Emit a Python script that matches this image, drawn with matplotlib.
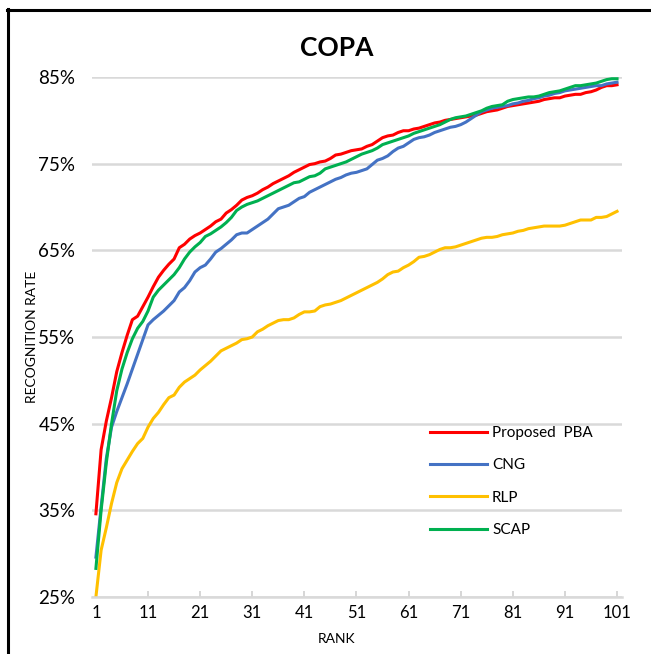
import numpy as np
import matplotlib
matplotlib.use('Agg')
import matplotlib.pyplot as plt
from matplotlib.lines import Line2D

plt.rcParams['font.family'] = ['Lato', 'DejaVu Sans']

# 数据
rank = list(range(1, 102))
pba = [34.6, 42.0, 45.3, 48.0, 51.0, 53.2, 55.2, 57.0, 57.4, 58.5,
       59.6, 60.8, 61.9, 62.7, 63.4, 64.0, 65.3, 65.7, 66.3, 66.7,
       67.0, 67.4, 67.8, 68.3, 68.6, 69.3, 69.7, 70.2, 70.8, 71.1,
       71.3, 71.6, 72.0, 72.3, 72.7, 73.0, 73.3, 73.6, 74.0, 74.3,
       74.6, 74.9, 75.0, 75.2, 75.3, 75.6, 76.0, 76.1, 76.3, 76.5,
       76.6, 76.7, 77.0, 77.2, 77.6, 78.0, 78.2, 78.3, 78.6, 78.8,
       78.8, 79.0, 79.1, 79.3, 79.5, 79.7, 79.8, 80.0, 80.1, 80.2,
       80.3, 80.4, 80.5, 80.6, 80.8, 81.0, 81.1, 81.2, 81.4, 81.6,
       81.7, 81.8, 81.9, 82.0, 82.1, 82.2, 82.4, 82.5, 82.6, 82.6,
       82.8, 82.9, 83.0, 83.0, 83.2, 83.3, 83.5, 83.8, 84.0, 84.0,
       84.1]
cng = [29.6, 35.4, 41.0, 44.6, 46.4, 48.0, 49.6, 51.3, 53.0, 54.7,
       56.4, 57.0, 57.5, 58.0, 58.6, 59.2, 60.2, 60.7, 61.5, 62.5,
       63.0, 63.3, 64.0, 64.8, 65.2, 65.7, 66.2, 66.8, 67.0, 67.0,
       67.4, 67.8, 68.2, 68.6, 69.2, 69.8, 70.0, 70.2, 70.6, 71.0,
       71.2, 71.7, 72.0, 72.3, 72.6, 72.9, 73.2, 73.4, 73.7, 73.9,
       74.0, 74.2, 74.4, 74.9, 75.4, 75.6, 75.9, 76.4, 76.8, 77.0,
       77.4, 77.8, 78.0, 78.1, 78.3, 78.6, 78.8, 79.0, 79.2, 79.3,
       79.5, 79.8, 80.2, 80.6, 81.0, 81.2, 81.4, 81.5, 81.6, 81.7,
       81.9, 82.0, 82.2, 82.3, 82.5, 82.6, 82.8, 82.9, 83.1, 83.2,
       83.4, 83.5, 83.6, 83.7, 83.8, 83.9, 84.0, 84.0, 84.2, 84.3,
       84.4]
rlp = [25.0, 30.4, 33.0, 35.8, 38.2, 39.8, 40.8, 41.8, 42.7, 43.3,
       44.6, 45.6, 46.3, 47.2, 48.0, 48.3, 49.2, 49.8, 50.2, 50.6,
       51.2, 51.7, 52.2, 52.8, 53.4, 53.7, 54.0, 54.3, 54.7, 54.8,
       55.0, 55.6, 55.9, 56.3, 56.6, 56.9, 57.0, 57.0, 57.2, 57.6,
       57.9, 57.9, 58.0, 58.5, 58.7, 58.8, 59.0, 59.2, 59.5, 59.8,
       60.1, 60.4, 60.7, 61.0, 61.3, 61.7, 62.2, 62.5, 62.6, 63.0,
       63.3, 63.7, 64.2, 64.3, 64.5, 64.8, 65.1, 65.3, 65.3, 65.4,
       65.6, 65.8, 66.0, 66.2, 66.4, 66.5, 66.5, 66.6, 66.8, 66.9,
       67.0, 67.2, 67.3, 67.5, 67.6, 67.7, 67.8, 67.8, 67.8, 67.8,
       67.9, 68.1, 68.3, 68.5, 68.5, 68.5, 68.8, 68.8, 68.9, 69.2,
       69.5]
scap = [28.3, 35.0, 40.5, 45.0, 48.8, 51.3, 53.2, 54.8, 56.0, 56.8,
        58.0, 59.6, 60.4, 61.0, 61.6, 62.2, 63.0, 64.0, 64.8, 65.4,
        65.9, 66.6, 66.9, 67.3, 67.7, 68.2, 68.8, 69.6, 70.0, 70.3,
        70.5, 70.7, 71.0, 71.3, 71.6, 71.9, 72.2, 72.5, 72.8, 72.9,
        73.2, 73.5, 73.6, 73.9, 74.4, 74.6, 74.8, 75.0, 75.2, 75.5,
        75.8, 76.1, 76.3, 76.5, 76.8, 77.2, 77.4, 77.6, 77.8, 78.0,
        78.2, 78.5, 78.7, 78.9, 79.1, 79.3, 79.5, 79.8, 80.1, 80.3,
        80.4, 80.5, 80.7, 80.9, 81.1, 81.4, 81.6, 81.7, 81.8, 82.2,
        82.4, 82.5, 82.6, 82.7, 82.7, 82.8, 83.0, 83.2, 83.3, 83.4,
        83.6, 83.8, 84.0, 84.0, 84.1, 84.2, 84.3, 84.5, 84.7, 84.8,
        84.8]
x_ticks = list(range(1, 102, 10))
y_ticks = [25, 35, 45, 55, 65, 75, 85]

fig = plt.figure(figsize=(6.51, 6.54), dpi=100)
ax = fig.add_axes([92 / 651, 1 - 597 / 654, 530 / 651, 520 / 654])

ax.plot(rank, pba, color='#FF0000', lw=2.2, label='Proposed  PBA')
ax.plot(rank, cng, color='#4472C4', lw=2.2, label='CNG')
ax.plot(rank, rlp, color='#FFC000', lw=2.2, label='RLP')
ax.plot(rank, scap, color='#00B050', lw=2.2, label='SCAP')

ax.set_xlim(0.25, 101.95)
ax.set_ylim(25, 85)
ax.set_yticks(y_ticks)
ax.set_yticklabels(['%d%%' % v for v in y_ticks], fontsize=13.5)
ax.set_xticks(x_ticks)
ax.set_xticklabels([str(v) for v in x_ticks], fontsize=12)
ax.tick_params(axis='y', length=0, pad=12)
ax.tick_params(axis='x', direction='in', length=4, width=1.2, color='#d0d0d0', pad=6)
ax.grid(axis='y', color='#d9d9d9', lw=1.8)
ax.set_axisbelow(True)
for s in ['top', 'right', 'left']:
    ax.spines[s].set_visible(False)
ax.spines['bottom'].set_color('#d9d9d9')
ax.spines['bottom'].set_linewidth(1.8)

ax.set_xlabel('RANK', fontsize=10)
ax.set_ylabel('RECOGNITION RATE', fontsize=10)
ax.xaxis.set_label_coords((337 - 92) / 530, -(633 - 597) / 520)
ax.yaxis.set_label_coords((38 - 92) / 530, (597 - 337) / 520)
fig.text(337 / 651, 1 - 48 / 654, 'COPA', fontsize=19, fontweight='bold',
         ha='center', va='center')

leg = ax.legend(loc='upper left', bbox_to_anchor=(0.612, 0.355), frameon=False,
                fontsize=11, handlelength=3.75, labelspacing=1.2, handletextpad=0.3)

# 外框
fig.add_artist(Line2D([7.5 / 651, 7.5 / 651], [0, 1 - 8.5 / 654], color='black', lw=2.2,
                      transform=fig.transFigure))
fig.add_artist(Line2D([6.5 / 651, 1], [1 - 9.5 / 654, 1 - 9.5 / 654], color='black', lw=2.2,
                      transform=fig.transFigure))

plt.savefig('out.png', dpi=100)
